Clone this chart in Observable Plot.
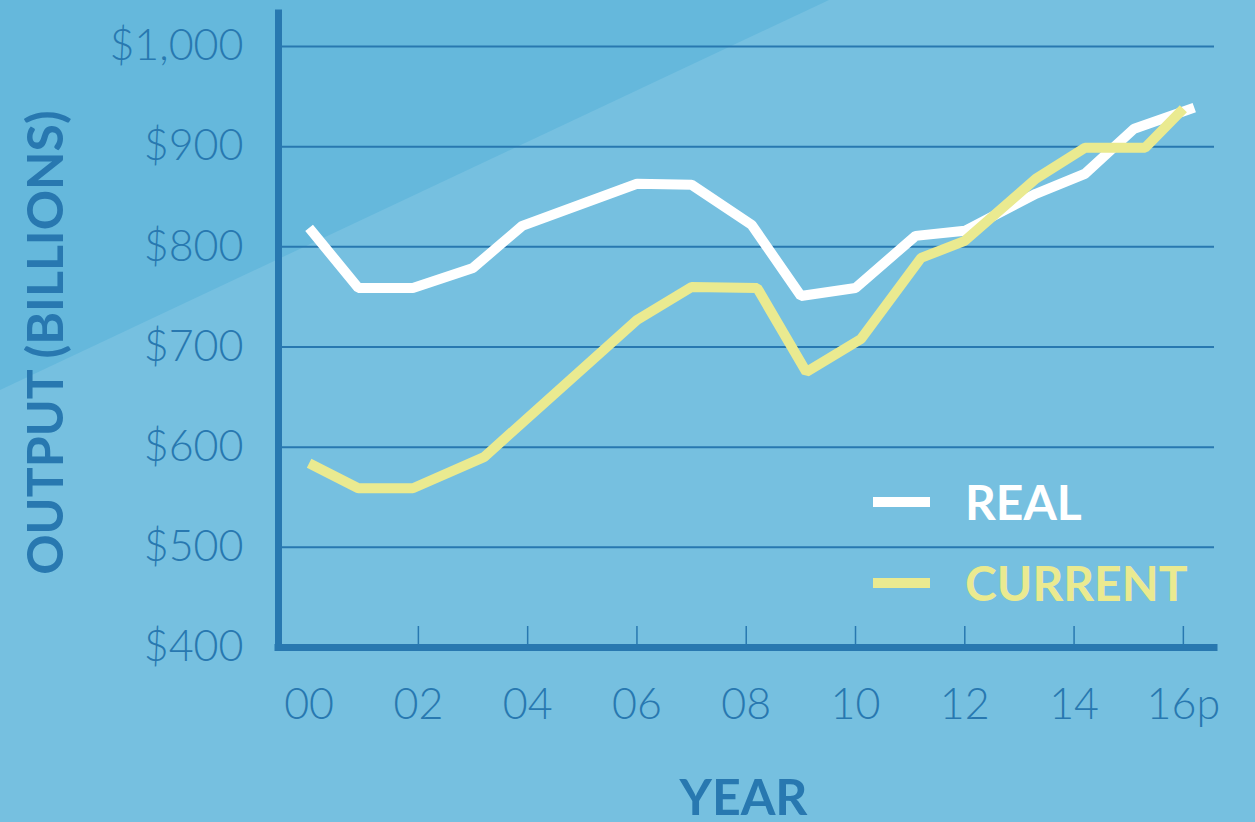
<!DOCTYPE html>
<html>
<head>
<meta charset="utf-8">
<script src="https://cdn.jsdelivr.net/npm/d3@7"></script>
<script src="https://cdn.jsdelivr.net/npm/@observablehq/plot@0.6"></script>
<style>
  body { margin: 0; background: #76C0E0; }
  #wrap { position: relative; width: 1255px; height: 822px; background: #76C0E0; overflow: hidden; font-family: Lato, "Open Sans", sans-serif; }
  #tri { position: absolute; left: 0; top: 0; width: 829px; height: 390px; background: #65B8DC; clip-path: polygon(0 0, 100% 0, 0 100%); }
  #chart { position: absolute; left: 0; top: 0; }
  .row { position: absolute; left: 873px; height: 60px; display: flex; align-items: center; white-space: nowrap; }
  .sw { width: 57px; height: 10px; margin-right: 35px; }
  .lab { font-family: Lato, sans-serif; font-weight: 700; font-size: 48px; line-height: 1; }
</style>
</head>
<body>
<div id="wrap">
  <div id="tri"></div>
  <div id="chart"></div>
  <div id="legend"></div>
</div>
<script>
// ---- data ----
const realYears    = [2000, 2000.9, 2001.9, 2003.0, 2003.9, 2006.0, 2007.0, 2008.1, 2009.0, 2010.0, 2011.1, 2012.0, 2013.3, 2014.2, 2015.1, 2016.2];
const realValues   = [819, 759, 759, 779, 821, 863, 862, 822, 751, 759, 811, 816, 853, 873, 918, 939];
const currentYears = [2000, 2000.9, 2001.9, 2003.2, 2006.0, 2007.0, 2008.2, 2009.1, 2010.1, 2011.2, 2012.0, 2013.3, 2014.2, 2015.3, 2016.0];
const currentValues= [584, 559, 559, 590, 727, 760, 759, 675, 708, 789, 806, 868, 899, 899, 938];
const seriesNames  = ["REAL", "CURRENT"];
const xLabelYears  = [2000, 2002, 2004, 2006, 2008, 2010, 2012, 2014, 2016];
const xLabels      = ["00", "02", "04", "06", "08", "10", "12", "14", "16p"];
const xTickYears   = [2002, 2004, 2006, 2008, 2010, 2012, 2014, 2016];
const yTicks       = [400, 500, 600, 700, 800, 900, 1000];
const gridValues   = [500, 600, 700, 800, 900, 1000];
const xDomain      = [1999.44, 2016.57];
const yDomain      = [400, 1033];
const yTitle = "OUTPUT (BILLIONS)";
const xTitle = "YEAR";

// ---- styles ----
const axisBlue = "#2878B0";
const colors = {REAL: "#FFFFFF", CURRENT: "#EAEA90"};

const rows = [
  ...realYears.map((y, i) => ({year: y, value: realValues[i], series: "REAL"})),
  ...currentYears.map((y, i) => ({year: y, value: currentValues[i], series: "CURRENT"}))
];

const chart = Plot.plot({
  width: 1255,
  height: 822,
  marginLeft: 278,
  marginRight: 41,
  marginTop: 13,
  marginBottom: 175,
  style: {background: "transparent", fontFamily: "Lato, sans-serif", overflow: "visible"},
  x: {domain: xDomain, label: null},
  y: {domain: yDomain, label: null},
  marks: [
    Plot.ruleY(gridValues, {stroke: axisBlue, strokeWidth: 2}),
    Plot.axisY(yTicks, {anchor: "left", tickSize: 0, tickPadding: 35, label: null,
      tickFormat: d => "$" + d3.format(",")(d), color: axisBlue, fontSize: 43, fontWeight: 300}),
    Plot.axisX(xLabelYears, {anchor: "bottom", tickSize: 0, tickPadding: 41, label: null,
      tickFormat: d => xLabels[xLabelYears.indexOf(d)], color: axisBlue, fontSize: 43, fontWeight: 300}),
    Plot.axisX(xTickYears, {anchor: "top", frameAnchor: "bottom", tickSize: 22, label: null,
      tickFormat: () => "", color: axisBlue, strokeWidth: 1.5}),
    Plot.ruleX([xDomain[0]], {stroke: axisBlue, strokeWidth: 7, strokeLinecap: "square"}),
    Plot.ruleY([yDomain[0]], {stroke: axisBlue, strokeWidth: 7, strokeLinecap: "square"}),
    Plot.line(rows.filter(d => d.series === "REAL"), {x: "year", y: "value", stroke: colors.REAL,
      strokeWidth: 10, strokeLinecap: "butt", strokeLinejoin: "miter"}),
    Plot.line(rows.filter(d => d.series === "CURRENT"), {x: "year", y: "value", stroke: colors.CURRENT,
      strokeWidth: 10, strokeLinecap: "butt", strokeLinejoin: "miter"}),
    Plot.text([yTitle], {frameAnchor: "left", textAnchor: "middle", dx: -232, dy: 12, rotate: -90, lineAnchor: "middle",
      fill: axisBlue, fontSize: 50, fontWeight: 700}),
    Plot.text([xTitle], {frameAnchor: "bottom", textAnchor: "middle", dx: -3, dy: 151, lineAnchor: "middle",
      fill: axisBlue, fontSize: 50, fontWeight: 700})
  ]
});
document.getElementById("chart").appendChild(chart);

// ---- legend ----
const legend = document.getElementById("legend");
const legendTops = {REAL: 472, CURRENT: 553};
seriesNames.forEach(name => {
  const row = document.createElement("div");
  row.className = "row";
  row.style.top = legendTops[name] + "px";
  row.innerHTML = `<div class="sw" style="background:${colors[name]}"></div><span class="lab" style="color:${colors[name]}">${name}</span>`;
  legend.appendChild(row);
});
</script>
</body>
</html>
